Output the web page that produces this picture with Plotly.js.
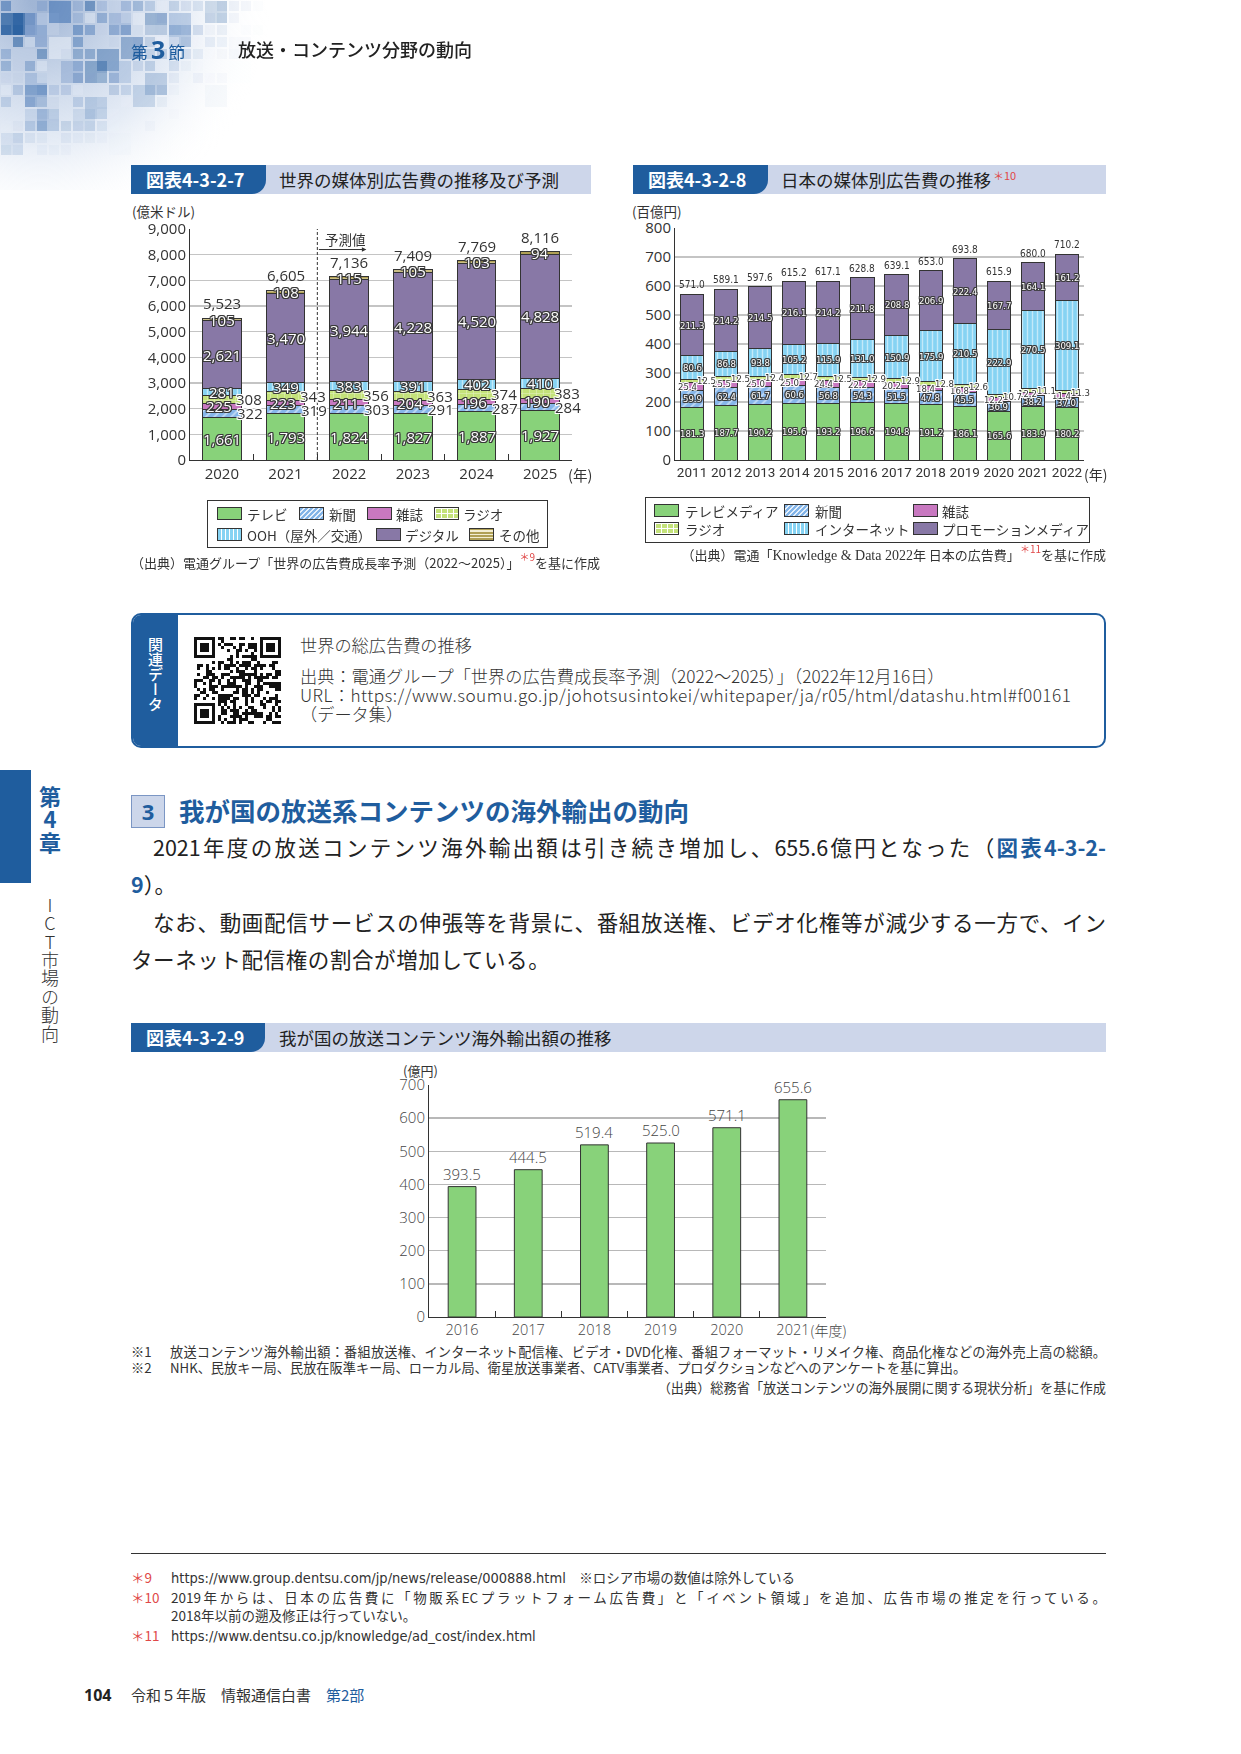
<!DOCTYPE html>
<html lang="ja">
<head>
<meta charset="utf-8">
<title>放送・コンテンツ分野の動向</title>
<script src="https://cdn.plot.ly/plotly-3.0.1.min.js"></script>
<style>
  html, body { margin: 0; padding: 0; background: #fff; }
  #page { position: relative; width: 1241px; height: 1754px; overflow: hidden;
          font-family: "Noto Sans CJK JP", "Noto Sans", sans-serif; color: #222; }
  .abs { position: absolute; white-space: nowrap; }
  .band { position: absolute; height: 29px; background: #cdd6ea; }
  .band .lab { position: absolute; left: 0; top: 0; height: 29px; width: 135px; background: #1f5d9e;
               color: #fff; font-weight: 700; font-size: 18px; line-height: 29px; padding-left: 15px;
               box-sizing: border-box; border-bottom-right-radius: 14px; }
  .band .ttl { position: absolute; top: 0; line-height: 29px; font-size: 17.5px; color: #222; }
  .sup { color: #e04848; font-size: 10px; position: relative; top: -7px; }
  .unit { font-size: 13.5px; color: #333; }
  .legend { position: absolute; border: 1.2px solid #333; box-sizing: border-box; background: #fff; }
  .li { position: absolute; font-size: 13.5px; color: #333; line-height: 16px; white-space: nowrap; }
  .sw { position: absolute; width: 25px; height: 13px; border: 1px solid #333; box-sizing: border-box; }
  .sw.tv { background: #88d27a; }
  .sw.news { background: repeating-linear-gradient(135deg, #82b4e8 0 2.5px, #e6f0fb 2.5px 3.6px); }
  .sw.mag { background: #c878c0; }
  .sw.radio { background-color: #c4e27a;
              background-image: linear-gradient(90deg, #fff 1px, transparent 1px), linear-gradient(#fff 1px, transparent 1px);
              background-size: 6px 5px; }
  .sw.ooh { background: repeating-linear-gradient(90deg, #86d3f3 0 3px, #fff 3px 4px); }
  .sw.dig { background: #8878a6; }
  .sw.oth { background: repeating-linear-gradient(0deg, #b0a055 0 2px, #f3eed3 2px 3.2px); }
  .src { font-size: 13px; color: #333; line-height: 18px; }
  .serif { font-family: "Liberation Serif", "DejaVu Serif", serif; font-size: 14px; }
  .lnk { color: #1f5d9e; font-weight: 700; }
  .body { position: absolute; font-size: 21.5px; line-height: 30px; color: #222; white-space: nowrap; }
  .just { text-align: justify; text-align-last: justify; }
  .note { font-size: 13.2px; color: #333; line-height: 16px; }
  .fn { font-size: 13.5px; color: #333; line-height: 18px; }
  .red { color: #e04848; }
  .narrow { font-family: "Liberation Sans Narrow", "DejaVu Sans Condensed", "Roboto", sans-serif; font-size: 14.5px; }
  .rel { font-size: 17.2px; font-weight: 300; color: #333; }
</style>
</head>
<body>
<div id="page">

  <!-- corner mosaic -->
  <canvas id="deco" class="abs" width="320" height="190" style="left:0;top:0;"></canvas>

  <!-- running head -->
  <div class="abs" style="left:131px;top:34px;color:#1f5d9e;font-size:17px;line-height:30px;">第<span style="font-size:25px;font-weight:700;font-family:'Open Sans','Noto Sans',sans-serif;margin:0 3px;">3</span>節</div>
  <div class="abs" style="left:238px;top:35px;font-size:18px;line-height:28px;color:#222;font-weight:500;">放送・コンテンツ分野の動向</div>

  <!-- chapter tab -->
  <div class="abs" style="left:0;top:770px;width:31px;height:113px;background:#1f5d9e;"></div>
  <div class="abs" style="left:38px;top:786px;writing-mode:vertical-rl;text-orientation:upright;font-size:22px;font-weight:700;color:#1f5d9e;letter-spacing:1px;line-height:24px;">第4章</div>
  <div class="abs" style="left:40px;top:896px;writing-mode:vertical-rl;text-orientation:upright;font-size:18px;font-weight:300;color:#333;line-height:20px;letter-spacing:0.4px;">ICT市場の動向</div>

  <!-- figure 4-3-2-7 -->
  <div class="band" style="left:131px;top:165px;width:460px;">
    <div class="lab">図表4-3-2-7</div>
    <div class="ttl" style="left:148px;">世界の媒体別広告費の推移及び予測</div>
  </div>
  <div class="abs unit" style="left:132px;top:201px;">(億米ドル)</div>
  <div id="chart1" class="abs" style="left:131px;top:200px;width:470px;height:300px;"></div>
  <div class="legend" style="left:207px;top:500px;width:341px;height:48px;">
    <div class="sw tv"    style="left:9px;top:6px;"></div><div class="li" style="left:39px;top:5px;">テレビ</div>
    <div class="sw news"  style="left:91px;top:6px;"></div><div class="li" style="left:121px;top:5px;">新聞</div>
    <div class="sw mag"   style="left:159px;top:6px;"></div><div class="li" style="left:188px;top:5px;">雑誌</div>
    <div class="sw radio" style="left:226px;top:6px;"></div><div class="li" style="left:255px;top:5px;">ラジオ</div>
    <div class="sw ooh"   style="left:9px;top:27px;"></div><div class="li" style="left:39px;top:26px;">OOH（屋外／交通）</div>
    <div class="sw dig"   style="left:168px;top:27px;"></div><div class="li" style="left:197px;top:26px;">デジタル</div>
    <div class="sw oth"   style="left:261px;top:27px;"></div><div class="li" style="left:291px;top:26px;">その他</div>
  </div>
  <div class="abs src" style="left:131px;top:554px;">（出典）電通グループ「世界の広告費成長率予測（2022～2025）」<span class="sup">＊9</span>を基に作成</div>

  <!-- figure 4-3-2-8 -->
  <div class="band" style="left:633px;top:165px;width:473px;">
    <div class="lab">図表4-3-2-8</div>
    <div class="ttl" style="left:148px;">日本の媒体別広告費の推移<span class="sup" style="font-size:11px;margin-left:2px;">＊10</span></div>
  </div>
  <div class="abs unit" style="left:632px;top:201px;">(百億円)</div>
  <div id="chart2" class="abs" style="left:633px;top:200px;width:475px;height:295px;"></div>
  <div class="legend" style="left:645px;top:497px;width:445px;height:46px;">
    <div class="sw tv"    style="left:8px;top:6px;"></div><div class="li" style="left:39px;top:5px;">テレビメディア</div>
    <div class="sw news"  style="left:138px;top:6px;"></div><div class="li" style="left:169px;top:5px;">新聞</div>
    <div class="sw mag"   style="left:267px;top:6px;"></div><div class="li" style="left:296px;top:5px;">雑誌</div>
    <div class="sw radio" style="left:8px;top:24px;"></div><div class="li" style="left:39px;top:23px;">ラジオ</div>
    <div class="sw ooh"   style="left:138px;top:24px;"></div><div class="li" style="left:169px;top:23px;">インターネット</div>
    <div class="sw dig"   style="left:267px;top:24px;"></div><div class="li" style="left:296px;top:23px;">プロモーションメディア</div>
  </div>
  <div class="abs src" style="right:135px;top:546px;">（出典）電通「<span class="serif">Knowledge &amp; Data 2022</span>年 日本の広告費」<span class="sup">＊11</span>を基に作成</div>

  <!-- related data box -->
  <div class="abs" style="left:131px;top:613px;width:975px;height:135px;border:2px solid #1f5d9e;border-radius:10px;box-sizing:border-box;overflow:hidden;">
    <div class="abs" style="left:0;top:0;width:45px;height:100%;background:#1f5d9e;"></div>
    <div class="abs" style="left:11px;top:22px;writing-mode:vertical-rl;text-orientation:upright;color:#fff;font-size:15px;font-weight:500;line-height:22px;">関連データ</div>
  </div>
  <canvas id="qr" class="abs" width="87" height="87" style="left:194px;top:637px;"></canvas>
  <div class="abs rel" style="left:300px;top:634px;line-height:22px;">世界の総広告費の推移</div>
  <div class="abs rel" style="left:300px;top:666px;line-height:19px;">出典：電通グループ「世界の広告費成長率予測（2022～2025）」（2022年12月16日）</div>
  <div class="abs rel" style="left:300px;top:685px;line-height:19px;letter-spacing:0.45px;">URL：https://www.soumu.go.jp/johotsusintokei/whitepaper/ja/r05/html/datashu.html#f00161</div>
  <div class="abs rel" style="left:300px;top:704px;line-height:19px;">（データ集）</div>

  <!-- section 3 -->
  <div class="abs" style="left:131px;top:795px;width:34px;height:33px;background:#ccd6ea;border:1px solid #7b96c4;box-sizing:border-box;color:#1f5d9e;font-weight:700;font-size:22px;line-height:31px;text-align:center;font-family:'Open Sans','Noto Sans',sans-serif;">3</div>
  <div class="abs" style="left:179px;top:793px;font-size:25.5px;font-weight:700;color:#1f5d9e;line-height:34px;">我が国の放送系コンテンツの海外輸出の動向</div>

  <div class="body just" style="left:153px;top:832px;width:953px;">2021年度の放送コンテンツ海外輸出額は引き続き増加し、655.6億円となった（<span class="lnk">図表4-3-2-</span></div>
  <div class="body" style="left:131px;top:869px;"><span class="lnk">9</span>）。</div>
  <div class="body just" style="left:153px;top:907px;width:953px;">なお、動画配信サービスの伸張等を背景に、番組放送権、ビデオ化権等が減少する一方で、イン</div>
  <div class="body" style="left:131px;top:944px;letter-spacing:0.6px;">ターネット配信権の割合が増加している。</div>

  <!-- figure 4-3-2-9 -->
  <div class="band" style="left:131px;top:1023px;width:975px;">
    <div class="lab" style="width:134px;">図表4-3-2-9</div>
    <div class="ttl" style="left:148px;">我が国の放送コンテンツ海外輸出額の推移</div>
  </div>
  <div class="abs unit" style="left:403px;top:1061px;font-size:13px;">(億円)</div>
  <div id="chart3" class="abs" style="left:340px;top:1060px;width:520px;height:290px;"></div>

  <div class="abs note" style="left:131px;top:1344px;">※1</div>
  <div class="abs note just" style="left:170px;top:1344px;width:936px;">放送コンテンツ海外輸出額：番組放送権、インターネット配信権、ビデオ・DVD化権、番組フォーマット・リメイク権、商品化権などの海外売上高の総額。</div>
  <div class="abs note" style="left:131px;top:1360px;">※2</div>
  <div class="abs note" style="left:170px;top:1360px;">NHK、民放キー局、民放在阪準キー局、ローカル局、衛星放送事業者、CATV事業者、プロダクションなどへのアンケートを基に算出。</div>
  <div class="abs note" style="right:135px;top:1380px;">（出典）総務省「放送コンテンツの海外展開に関する現状分析」を基に作成</div>

  <!-- footnotes -->
  <div class="abs" style="left:131px;top:1553px;width:975px;height:0;border-top:1.2px solid #333;"></div>
  <div class="abs fn red" style="left:131px;top:1568px;">＊9</div>
  <div class="abs fn" style="left:171px;top:1568px;"><span class="narrow">https://www.group.dentsu.com/jp/news/release/000888.html</span>　※ロシア市場の数値は除外している</div>
  <div class="abs fn red" style="left:131px;top:1588px;">＊10</div>
  <div class="abs fn just" style="left:171px;top:1588px;width:935px;">2019年からは、日本の広告費に「物販系ECプラットフォーム広告費」と「イベント領域」を追加、広告市場の推定を行っている。</div>
  <div class="abs fn" style="left:171px;top:1606px;">2018年以前の遡及修正は行っていない。</div>
  <div class="abs fn red" style="left:131px;top:1626px;">＊11</div>
  <div class="abs fn" style="left:171px;top:1626px;"><span class="narrow">https://www.dentsu.co.jp/knowledge/ad_cost/index.html</span></div>

  <!-- folio -->
  <div class="abs" style="left:84px;top:1684px;font-size:16px;font-weight:700;color:#222;font-family:'Open Sans','Noto Sans',sans-serif;">104</div>
  <div class="abs" style="left:131px;top:1684px;font-size:15px;color:#333;line-height:22px;">令和５年版　情報通信白書　<span style="color:#1f5d9e;">第2部</span></div>
</div>

<script>
// ---- world advertising spend by medium (100 million USD) ----
const years1   = ['2020', '2021', '2022', '2023', '2024', '2025'];
const tv1      = [1661, 1793, 1824, 1827, 1887, 1927];
const news1    = [322, 319, 303, 291, 287, 284];
const mag1     = [225, 223, 211, 204, 196, 190];
const radio1   = [308, 343, 356, 363, 374, 383];
const ooh1     = [281, 349, 383, 391, 402, 410];
const digital1 = [2621, 3470, 3944, 4228, 4520, 4828];
const other1   = [105, 108, 115, 105, 103, 94];

// ---- Japanese advertising spend by medium (10 billion JPY) ----
const years2  = ['2011', '2012', '2013', '2014', '2015', '2016', '2017', '2018', '2019', '2020', '2021', '2022'];
const tv2     = [181.3, 187.7, 190.2, 195.6, 193.2, 196.6, 194.8, 191.2, 186.1, 165.6, 183.9, 180.2];
const news2   = [59.9, 62.4, 61.7, 60.6, 56.8, 54.3, 51.5, 47.8, 45.5, 36.9, 38.2, 37.0];
const mag2    = [25.4, 25.5, 25.0, 25.0, 24.4, 22.2, 20.2, 18.4, 16.8, 12.2, 12.2, 11.4];
const radio2  = [12.5, 12.5, 12.4, 12.7, 12.5, 12.9, 12.9, 12.8, 12.6, 10.7, 11.1, 11.3];
const net2    = [80.6, 86.8, 93.8, 105.2, 115.9, 131.0, 150.9, 175.9, 210.5, 222.9, 270.5, 309.1];
const promo2  = [211.3, 214.2, 214.5, 216.1, 214.2, 211.8, 208.8, 206.9, 222.4, 167.7, 164.1, 161.2];
const total2  = [571.0, 589.1, 597.6, 615.2, 617.1, 628.8, 639.1, 653.0, 693.8, 615.9, 680.0, 710.2];

// ---- broadcast content export value (100 million JPY) ----
const years3  = ['2016', '2017', '2018', '2019', '2020', '2021'];
const export3 = [393.5, 444.5, 519.4, 525.0, 571.1, 655.6];

// ---- shared styling ----
const NUM_FONT = 'Open Sans, Noto Sans, sans-serif';
const NARROW = 'Liberation Sans Narrow, DejaVu Sans Condensed, Roboto, sans-serif';
const C = { tv: '#88d27a', news: '#86b6ea', mag: '#c878c0', radio: '#c4e27a', ooh: '#86d3f3', dig: '#8878a6', oth: '#b0a055' };
const PAT = {
  news:  { shape: '/', fillmode: 'overlay', fgcolor: '#ffffff', size: 6, solidity: 0.3 },
  radio: { shape: '+', fillmode: 'overlay', fgcolor: '#ffffff', size: 7, solidity: 0.16 },
  ooh:   { shape: '|', fillmode: 'overlay', fgcolor: '#ffffff', size: 5, solidity: 0.28 },
  oth:   { shape: '-', fillmode: 'overlay', fgcolor: '#f3eed3', size: 4, solidity: 0.4 }
};
function outline(col, w) {
  const s = [];
  for (const [dx, dy] of [[-1,-1],[1,-1],[-1,1],[1,1],[0,1],[0,-1],[1,0],[-1,0]]) s.push(`${dx*w}px ${dy*w}px 0 ${col}`);
  return s.join(', ');
}
const DARK_EDGE = outline('#3a3a3a', 1);
const WHITE_EDGE = outline('#ffffff', 1);

function bar(name, x, y, color, pattern) {
  return { type: 'bar', name, x, y, hoverinfo: 'skip',
           marker: { color, pattern: pattern || { shape: '' }, line: { color: '#333', width: 1 } } };
}

// stacked segment labels placed at each segment's midpoint (x given as category index)
function segLabels(cats, groups, fmt, base) {
  const cum = cats.map(() => 0);
  const ann = [];
  groups.forEach(g => {
    g.v.forEach((v, i) => {
      ann.push({
        x: i, y: cum[i] + v / 2, text: fmt(v), showarrow: false, xshift: g.dx || 0,
        font: Object.assign({}, base, { color: g.out ? '#333' : '#ffffff', shadow: g.out ? WHITE_EDGE : DARK_EDGE })
      });
      cum[i] += v;
    });
  });
  return { ann, cum };
}

function catAxis(n, extra) {
  return Object.assign({ type: 'category', range: [-0.5, n - 0.5], autorange: false,
    showline: true, linecolor: '#333', linewidth: 1, showgrid: false, tickangle: 0 }, extra);
}

const cfg = { displayModeBar: false, staticPlot: true };

// ================= chart 1 =================
(function () {
  const traces = [
    bar('テレビ', years1, tv1, C.tv),
    bar('新聞', years1, news1, C.news, PAT.news),
    bar('雑誌', years1, mag1, C.mag),
    bar('ラジオ', years1, radio1, C.radio, PAT.radio),
    bar('OOH（屋外／交通）', years1, ooh1, C.ooh, PAT.ooh),
    bar('デジタル', years1, digital1, C.dig),
    bar('その他', years1, other1, C.oth, PAT.oth)
  ];
  const fmt = v => v.toLocaleString('en-US');
  const lab = segLabels(years1, [
    { v: tv1 }, { v: news1, dx: 28, out: true }, { v: mag1, dx: -3 }, { v: radio1, dx: 27, out: true },
    { v: ooh1 }, { v: digital1 }, { v: other1 }
  ], fmt, { family: NUM_FONT, size: 15 });
  const ann = lab.ann;
  lab.cum.forEach((t, i) => ann.push({ x: i, y: t, text: fmt(t), showarrow: false, yanchor: 'bottom', yshift: 3,
    font: { family: NUM_FONT, size: 15, color: '#333' } }));
  ann.push({ x: years1.length - 1, xref: 'x', y: 0, yref: 'paper', xanchor: 'left', yanchor: 'top', xshift: 26, yshift: -2,
    text: '(年)', showarrow: false, font: { family: 'Noto Sans CJK JP, sans-serif', size: 14.5, color: '#333' } });
  // forecast marker
  ann.push({ x: 2.27, y: 8200, ax: 1.5, ay: 8200, axref: 'x', ayref: 'y', text: '', showarrow: true,
    arrowhead: 2, arrowsize: 0.9, arrowwidth: 1, arrowcolor: '#333' });
  ann.push({ x: 1.95, y: 8600, text: '予測値', showarrow: false, font: { family: 'Noto Sans CJK JP, sans-serif', size: 13.5, color: '#333' } });

  Plotly.newPlot('chart1', traces, {
    width: 470, height: 300, margin: { l: 59, r: 29, t: 29, b: 40 },
    barmode: 'stack', bargap: 0.39, showlegend: false,
    paper_bgcolor: 'rgba(0,0,0,0)', plot_bgcolor: 'rgba(0,0,0,0)',
    xaxis: catAxis(years1.length, { ticks: 'inside', tickson: 'boundaries', ticklen: 6, tickcolor: '#333',
             tickfont: { family: NUM_FONT, size: 15, color: '#333' } }),
    yaxis: { range: [0, 9000], autorange: false, dtick: 1000, tickformat: ',', showline: true, linecolor: '#333', linewidth: 1,
             gridcolor: '#c4c4c4', gridwidth: 1.5, zeroline: false, ticks: '',
             tickfont: { family: NUM_FONT, size: 15, color: '#333' } },
    shapes: [{ type: 'line', xref: 'x', yref: 'paper', x0: 1.5, x1: 1.5, y0: 0, y1: 1,
               line: { color: '#333', width: 1, dash: '3px,2px' } }],
    annotations: ann
  }, cfg);
})();

// ================= chart 2 =================
(function () {
  const traces = [
    bar('テレビメディア', years2, tv2, C.tv),
    bar('新聞', years2, news2, C.news, PAT.news),
    bar('雑誌', years2, mag2, C.mag),
    bar('ラジオ', years2, radio2, C.radio, PAT.radio),
    bar('インターネット', years2, net2, C.ooh, PAT.ooh),
    bar('プロモーションメディア', years2, promo2, C.dig)
  ];
  const fmt = v => v.toFixed(1);
  const lab = segLabels(years2, [
    { v: tv2 }, { v: news2 }, { v: mag2, dx: -5, out: true }, { v: radio2, dx: 14, out: true },
    { v: net2 }, { v: promo2 }
  ], fmt, { family: NARROW, size: 9.5 });
  const ann = lab.ann;
  lab.cum.forEach((t, i) => ann.push({ x: i, y: t, text: fmt(total2[i]), showarrow: false, yanchor: 'bottom', yshift: 2,
    font: { family: NARROW, size: 10, color: '#333' } }));
  ann.push({ x: years2.length - 1, xref: 'x', y: 0, yref: 'paper', xanchor: 'left', yanchor: 'top', xshift: 15, yshift: -2,
    text: '(年)', showarrow: false, font: { family: 'Noto Sans CJK JP, sans-serif', size: 14, color: '#333' } });

  Plotly.newPlot('chart2', traces, {
    width: 475, height: 295, margin: { l: 42, r: 24, t: 28, b: 35 },
    barmode: 'stack', bargap: 0.32, showlegend: false,
    paper_bgcolor: 'rgba(0,0,0,0)', plot_bgcolor: 'rgba(0,0,0,0)',
    xaxis: catAxis(years2.length, { ticks: '', tickfont: { family: 'Roboto, sans-serif', size: 13.5, color: '#333' } }),
    yaxis: { range: [0, 800], autorange: false, dtick: 100, showline: true, linecolor: '#333', linewidth: 1,
             gridcolor: '#c4c4c4', gridwidth: 1.5, zeroline: false, ticks: '',
             tickfont: { family: NUM_FONT, size: 15, color: '#333' } },
    annotations: ann
  }, cfg);
})();

// ================= chart 3 =================
(function () {
  const ann = years3.map((y, i) => ({ x: i, y: export3[i], text: export3[i].toFixed(1), showarrow: false,
    yanchor: 'bottom', yshift: 1, font: { family: NUM_FONT, size: 15, color: '#444', weight: 300 } }));
  ann.push({ x: years3.length - 1, xref: 'x', y: 0, yref: 'paper', xanchor: 'left', yanchor: 'top', xshift: 15, yshift: -1,
    text: '(年度)', showarrow: false, font: { family: 'Noto Sans CJK JP, sans-serif', size: 14, color: '#444', weight: 300 } });
  Plotly.newPlot('chart3', [{
    type: 'bar', x: years3, y: export3, hoverinfo: 'skip',
    marker: { color: '#88d27a', line: { color: '#333', width: 1 } }
  }], {
    width: 520, height: 290, margin: { l: 89, r: 34, t: 25, b: 33 },
    bargap: 0.58, showlegend: false,
    paper_bgcolor: 'rgba(0,0,0,0)', plot_bgcolor: 'rgba(0,0,0,0)',
    xaxis: catAxis(years3.length, { ticks: 'inside', tickson: 'boundaries', ticklen: 6, tickcolor: '#333',
             tickfont: { family: NUM_FONT, size: 14.5, color: '#444', weight: 300 } }),
    yaxis: { range: [0, 700], autorange: false, dtick: 100, showline: true, linecolor: '#333', linewidth: 1,
             gridcolor: '#b8b8b8', gridwidth: 1.3, zeroline: false, ticks: '',
             tickfont: { family: NUM_FONT, size: 15, color: '#444', weight: 300 } },
    annotations: ann
  }, cfg);
})();

// ---- corner mosaic ----
(function () {
  const cv = document.getElementById('deco');
  const ctx = cv.getContext('2d');
  const hash = (a, b) => {
    let h = (a * 374761393 + b * 668265263) ^ 0x5bd1e995;
    h = Math.imul(h ^ (h >>> 13), 1274126177);
    return ((h ^ (h >>> 16)) >>> 0) / 4294967295;
  };
  const g = ctx.createRadialGradient(40, 0, 10, 40, 0, 230);
  g.addColorStop(0, 'rgba(120,150,195,0.7)');
  g.addColorStop(0.6, 'rgba(170,192,224,0.3)');
  g.addColorStop(1, 'rgba(255,255,255,0)');
  ctx.fillStyle = g;
  ctx.fillRect(0, 0, 320, 190);
  const pal = [[40, 95, 160], [80, 125, 185], [130, 160, 205], [190, 205, 228], [235, 240, 248], [60, 110, 175]];
  const step = 12;
  for (let gy = 0; gy < 190; gy += step) {
    for (let gx = 0; gx < 320; gx += step) {
      const d = Math.sqrt(Math.pow((gx + 6) / 265, 2) + Math.pow((gy + 6) / 160, 2));
      if (d > 1) continue;
      const h = hash(gx, gy), k = hash(gy + 7, gx + 3);
      if (h < 0.25) continue;
      const c = pal[Math.floor(k * pal.length)];
      const a = Math.pow(1 - d, 0.9) * (0.3 + 0.55 * h);
      ctx.fillStyle = `rgba(${c[0]},${c[1]},${c[2]},${a.toFixed(3)})`;
      const sz = h > 0.85 ? step * 2 - 2 : step - 2;
      ctx.fillRect(gx + 1, gy + 1, sz, sz);
    }
  }
})();

// ---- link code graphic ----
(function () {
  const cv = document.getElementById('qr');
  const ctx = cv.getContext('2d');
  const n = 29, m = 3;
  ctx.fillStyle = '#fff'; ctx.fillRect(0, 0, 87, 87);
  const hash = (a, b) => {
    let h = Math.imul(a * 2654435761 ^ b * 40503, 2246822519);
    h ^= h >>> 15; h = Math.imul(h, 3266489917); h ^= h >>> 16;
    return (h >>> 0) / 4294967295;
  };
  const finder = (r, c) => (r < 8 && c < 8) || (r < 8 && c >= n - 8) || (r >= n - 8 && c < 8);
  ctx.fillStyle = '#111';
  for (let r = 0; r < n; r++) for (let c = 0; c < n; c++) {
    if (finder(r, c)) continue;
    if (hash(r + 1, c + 1) > 0.5) ctx.fillRect(c * m, r * m, m, m);
  }
  [[0, 0], [0, n - 7], [n - 7, 0]].forEach(([r, c]) => {
    ctx.fillStyle = '#111'; ctx.fillRect(c * m, r * m, 7 * m, 7 * m);
    ctx.fillStyle = '#fff'; ctx.fillRect((c + 1) * m, (r + 1) * m, 5 * m, 5 * m);
    ctx.fillStyle = '#111'; ctx.fillRect((c + 2) * m, (r + 2) * m, 3 * m, 3 * m);
  });
})();
</script>
</body>
</html>
